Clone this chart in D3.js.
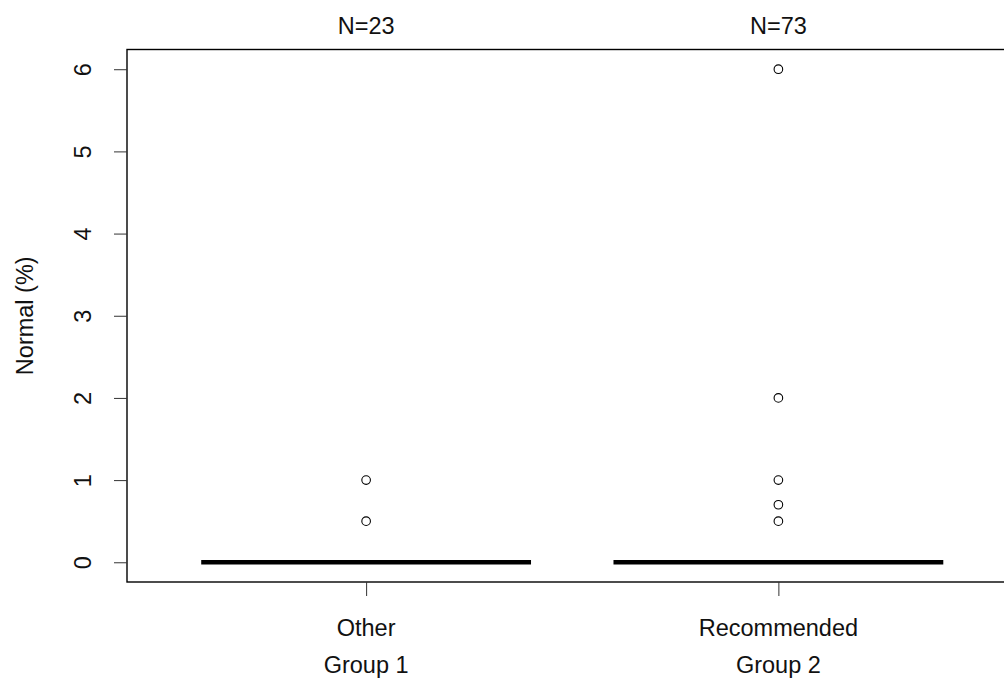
<!DOCTYPE html>
<html>
<head>
  <meta charset="UTF-8">
  <title>Normal (%) by group</title>
  <style>
    body { margin: 0; background: #fff; overflow: hidden; }
    svg text { font-family: "Liberation Sans", Arial, sans-serif; fill: #111; }
  </style>
</head>
<body>
  <script src="https://cdn.jsdelivr.net/npm/d3@7"></script>
  <script>
    // data
    const groups = ["Other", "Recommended"];
    const groupNames = ["Group 1", "Group 2"];
    const counts = [23, 73];
    const medians = [0, 0];
    const q1s = [0, 0];
    const q3s = [0, 0];
    const outliers = [[1, 0.5], [6, 2, 1, 0.7, 0.5]];
    const yTicks = [0, 1, 2, 3, 4, 5, 6];

    const width = 1004, height = 678;
    const fs = 23.5;
    const svg = d3.select("body").append("svg").attr("width", width).attr("height", height);

    // R style user coordinates: 0.42..2.58 on x, -0.24..6.24 on y
    const x = d3.scaleLinear().domain([0.42, 2.58]).range([127, 1017.5]);
    const y = d3.scaleLinear().domain([-0.24, 6.24]).range([582, 49.5]);
    const boxHalf = 0.4;

    // frame (right edge runs past the window, as in the picture)
    svg.append("rect")
      .attr("x", x(0.42)).attr("y", y(6.24))
      .attr("width", x(2.58) - x(0.42)).attr("height", y(-0.24) - y(6.24))
      .attr("fill", "none").attr("stroke", "#000").attr("stroke-width", 1.4);

    // y axis
    const yAxis = svg.append("g").attr("transform", `translate(${x(0.42)},0)`)
      .call(d3.axisLeft(y).tickValues(yTicks).tickSize(13).tickFormat(d3.format("d")));
    yAxis.select(".domain").remove();
    yAxis.selectAll(".tick line").attr("stroke", "#333");
    yAxis.selectAll(".tick text")
      .attr("font-size", fs).attr("font-family", null)
      .attr("transform", "rotate(-90)")
      .attr("text-anchor", "middle")
      .attr("x", 0).attr("y", -36.5).attr("dy", 0)
      .style("fill", "#111");

    // x axis ticks
    const xAxis = svg.append("g").attr("transform", `translate(0,${y(-0.24)})`)
      .call(d3.axisBottom(x).tickValues([1, 2]).tickSize(14).tickFormat(""));
    xAxis.select(".domain").remove();
    xAxis.selectAll(".tick line").attr("stroke", "#333");

    const g = svg.append("g");
    groups.forEach((name, i) => {
      const pos = i + 1;
      // box (collapsed to zero height)
      g.append("rect")
        .attr("x", x(pos - boxHalf)).attr("y", y(q3s[i]))
        .attr("width", x(pos + boxHalf) - x(pos - boxHalf))
        .attr("height", y(q1s[i]) - y(q3s[i]))
        .attr("fill", "none").attr("stroke", "#000");
      // median
      g.append("line")
        .attr("x1", x(pos - boxHalf)).attr("x2", x(pos + boxHalf))
        .attr("y1", y(medians[i])).attr("y2", y(medians[i]))
        .attr("stroke", "#000").attr("stroke-width", 4.5);
      // outliers
      g.selectAll(null).data(outliers[i]).enter().append("circle")
        .attr("cx", x(pos)).attr("cy", d => y(d)).attr("r", 4.3)
        .attr("fill", "none").attr("stroke", "#000").attr("stroke-width", 1.1);
      // labels
      svg.append("text").attr("x", x(pos)).attr("y", 26).attr("dy", "0.35em")
        .attr("text-anchor", "middle").attr("font-size", fs).text("N=" + counts[i]);
      svg.append("text").attr("x", x(pos)).attr("y", 628).attr("dy", "0.35em")
        .attr("text-anchor", "middle").attr("font-size", fs).text(name);
      svg.append("text").attr("x", x(pos)).attr("y", 665).attr("dy", "0.35em")
        .attr("text-anchor", "middle").attr("font-size", fs).text(groupNames[i]);
    });

    // y label
    svg.append("text")
      .attr("transform", `translate(25,${y(3)}) rotate(-90)`)
      .attr("dy", "0.35em").attr("text-anchor", "middle")
      .attr("font-size", fs).text("Normal (%)");
  </script>
</body>
</html>
